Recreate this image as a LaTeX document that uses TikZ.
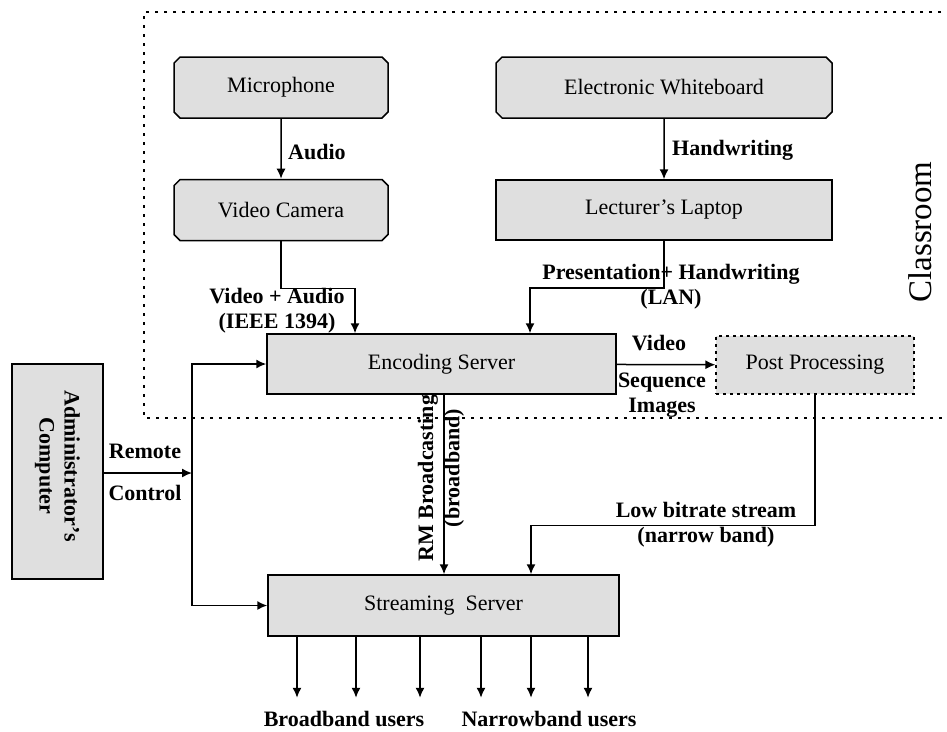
\documentclass[tikz,border=0pt]{standalone}
\usepackage{fontspec}
\setmainfont{Liberation Serif}
\usepackage{tikz}
\usetikzlibrary{positioning,arrows.meta,shapes.misc}
\definecolor{boxgray}{RGB}{223,223,223}

\begin{document}
\begin{tikzpicture}[x=1pt,y=-1pt,
every node/.style={inner sep=0pt,font=\fontsize{22}{25}\selectfont},
devbox/.style={draw,fill=boxgray,line width=1.5pt,minimum width=#1},
chambox/.style={devbox=#1,chamfered rectangle,
chamfered rectangle xsep=3pt,minimum height=61pt},
lbl/.style={font=\fontsize{22}{25}\selectfont\bfseries,align=center},
arr/.style={line width=1.5pt,-{Latex[length=10pt,width=9pt]}},
classline/.style={line width=1.5pt,dash pattern=on 3pt off 6pt}]
\useasboundingbox (0,0) rectangle (947,731);
\draw[classline] (950,12) -| (144,418) -- (950,418);
\node[chambox=214pt] (mic) at (281,87.5) {Microphone};
\node[chambox=214pt] (cam) at (281,210) {Video Camera};
\node[chambox=336pt] (wb) at (664,87.5) {Electronic Whiteboard};
\node[devbox=336pt,minimum height=60pt] (lap) at (664,210) {Lecturer's Laptop};
\node[devbox=349pt,minimum height=60pt] (enc) at (441.5,364) {Encoding Server};
\node[devbox=198pt,minimum height=58pt,line width=1.2pt,dash pattern=on 3pt off 4pt] (post) at (815,365) {Post Processing};
\node[devbox=91pt,minimum height=215pt] (admin) at (57.5,471.5) {};
\node[lbl,rotate=-90] (admintxt) at (57.5,466) {Administrator's\\Computer};
\node[devbox=351pt,minimum height=61pt] (str) at (443.5,605.5) {Streaming\ \ Server};
\node[rotate=90,font=\fontsize{33}{36}\selectfont] (room) at (920,232) {Classroom};
\coordinate (split) at (192,473);
\draw[arr] (mic) -- (cam);
\draw[arr] (wb) -- (lap);
\draw[arr] (cam.south) -- ++(0,47) -| ([xshift=-86.5pt]enc.north);
\draw[arr] (lap.south) -- ++(0,47) -| ([xshift=88.5pt]enc.north);
\draw[arr] (enc) -- (post);
\draw[arr] (admin.east |- split) -- (split);
\draw[arr] (split) |- (enc.west);
\draw[arr] (split) |- (str.west);
\draw[arr] (enc.south -| 444,0) -- (str.north -| 444,0);
\draw[arr] (post.south) -- ++(0,131) -| ([xshift=87.5pt]str.north);
\foreach \ux in {297,356,420,481,531,588}
  \draw[arr] (str.south -| \ux,0) -- ++(0,61);
\node[lbl,anchor=west] (audio) at (288,152) {Audio};
\node[lbl,anchor=west] (hw) at (672,150) {Handwriting};
\node[lbl] (va) at (277,310.5) {Video + Audio\\(IEEE 1394)};
\node[lbl] (pres) at (671,286.5) {Presentation+ Handwriting\\(LAN)};
\node[lbl] (vid) at (659,343) {Video};
\node[lbl] (seq) at (662,395) {Sequence\\Images};
\node[lbl] (rem) at (145,451) {Remote};
\node[lbl] (ctl) at (145,493) {Control};
\node[lbl,rotate=90] (rm) at (428,478) {RM Broadcasting};
\node[lbl,rotate=90] (bb) at (454,468) {(broadband)};
\node[lbl] (low) at (706,524.5) {Low bitrate stream\\(narrow band)};
\node[lbl] (bbu) at (344,719) {Broadband users};
\node[lbl] (nbu) at (549,719) {Narrowband users};
\end{tikzpicture}
\end{document}
